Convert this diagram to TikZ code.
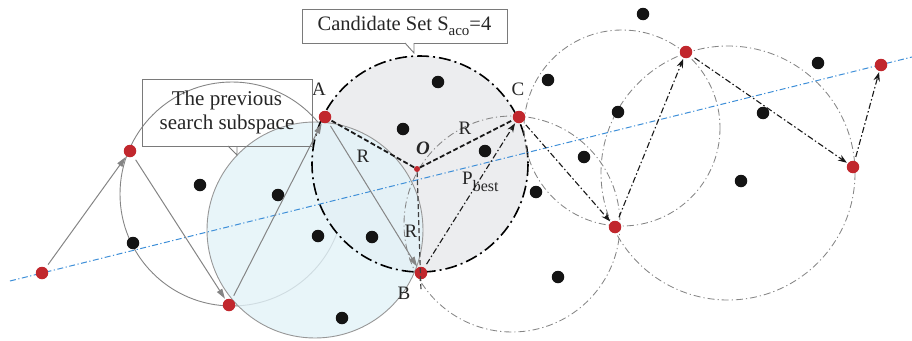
\documentclass[tikz,border=0pt]{standalone}
\usepackage{fontspec}
\setmainfont{Liberation Serif}
\usetikzlibrary{arrows.meta}
\definecolor{ptred}{HTML}{C1272D}
\definecolor{candfill}{HTML}{ECEDEF}
\definecolor{prevfill}{HTML}{E2F2F8}
\definecolor{axisblue}{HTML}{3E8FD8}
\definecolor{linegray}{HTML}{858585}
\definecolor{boxgray}{HTML}{7A7A7A}
\begin{document}
\begin{tikzpicture}[x=1pt,y=-1pt,
  redpt/.style={circle, fill=ptred, inner sep=0pt, minimum size=12.5pt},
  blkpt/.style={circle, fill=black!92, inner sep=0pt, minimum size=12.5pt},
  grayarrow/.style={draw=linegray, line width=1pt, -{Triangle[length=10pt,width=6pt]}, shorten <=4pt, shorten >=1pt},
  dasharrow/.style={draw=black!90, line width=1.1pt, dash pattern=on 6pt off 2.5pt on 1.5pt off 2.5pt, -{Stealth[length=9pt,width=6.5pt]}, shorten <=4pt, shorten >=1pt},
  thincirc/.style={draw=linegray, line width=0.85pt, dash pattern=on 7pt off 3pt on 1.2pt off 3pt},
  candcirc/.style={draw=black, line width=1.6pt, dash pattern=on 12pt off 4pt on 2pt off 4pt},
  radline/.style={draw=black!90, line width=1.8pt, dash pattern=on 5pt off 2.5pt},
  lbl/.style={inner sep=0pt, font=\fontsize{19}{19}\selectfont, text=black!85},
  calloutbox/.style={draw=boxgray, line width=0.9pt, align=center, inner sep=0pt, text=black!85}
]
\useasboundingbox (0,0) rectangle (912,340);

% circle centres
\coordinate (prevc) at (232,194);
\coordinate (blue) at (315,230);
\coordinate (cand) at (420,164);
\coordinate (c1) at (622,128);
\coordinate (c2) at (728,173);
\coordinate (c3) at (512,224);

% earlier search subspace
\draw[draw=linegray, line width=0.9pt] (prevc) circle[radius=112];
% candidate set region and current subspace
\fill[candfill] (cand) circle[radius=108];
\fill[prevfill, opacity=0.8] (blue) circle[radius=108];
\draw[draw=linegray!85, line width=0.9pt] (blue) circle[radius=108];
\draw[candcirc] (cand) circle[radius=108];

% later neighbourhoods
\draw[thincirc] (c1) circle[radius=98];
\draw[thincirc] (c2) circle[radius=127];
\draw[thincirc] (c3) circle[radius=108];

% main search direction
\coordinate (axisL) at (10,281);
\coordinate (axisR) at (912,57);
\draw[draw=axisblue, line width=1pt, dash pattern=on 6pt off 2.5pt on 1.2pt off 2.5pt] (axisL) -- (axisR);

% sampled points
\foreach \n/\p in {d1/{(438,82)}, d2/{(403,129)}, d3/{(200,185)}, d4/{(278,195)},
  d5/{(133,243)}, d6/{(318,236)}, d7/{(372,237)}, d8/{(342,318)}, d9/{(643,14)},
  d10/{(548,80)}, d11/{(618,112)}, d12/{(485,151)}, d13/{(584,157)}, d14/{(536,192)},
  d15/{(763,113)}, d16/{(818,63)}, d17/{(741,181)}, d18/{(558,277)}}
  \node[blkpt] (\n) at \p {};

% path points
\node[redpt] (p0) at (42,273) {};
\node[redpt] (p1) at (130,151) {};
\node[redpt] (p2) at (229,305) {};
\node[redpt] (A) at (325,117) {};
\node[redpt] (B) at (421,273) {};
\node[redpt] (C) at (519,117) {};
\node[redpt] (D) at (615,227) {};
\node[redpt] (E) at (686,52) {};
\node[redpt] (F) at (853,167) {};
\node[redpt] (G) at (881,65) {};
\node[circle, fill=ptred, inner sep=0pt, minimum size=6pt] (O) at (417,169) {};
\coordinate (Bend) at (421,291);

% radii of the candidate region
\draw[radline] (O) -- (A);
\draw[radline] (O) -- (C);
\draw[draw=black!75, line width=1.2pt, dash pattern=on 5pt off 3pt] (O) -- (Bend);

% previous moves
\draw[grayarrow] (p0) -- (p1);
\draw[grayarrow] (p1) -- (p2);
\draw[grayarrow] (p2) -- (A);
\draw[grayarrow] (A) -- (B);

% moves from the best candidate on
\draw[dasharrow] (B) -- (C);
\draw[dasharrow] (C) -- (D);
\draw[dasharrow] (D) -- (E);
\draw[dasharrow] (E) -- (F);
\draw[dasharrow] (F) -- (G);

% labels
\node[lbl] (lA) at (319,89) {A};
\node[lbl] (lB) at (404,293) {B};
\node[lbl] (lC) at (518,89) {C};
\node[lbl] (lR1) at (363,156) {R};
\node[lbl] (lR2) at (465,128) {R};
\node[lbl] (lR3) at (411,231) {R};
\node[lbl, font=\fontsize{19}{19}\selectfont\bfseries\itshape] (lO) at (423,148) {O};
\node[lbl, anchor=west] (lP) at (462,182) {P\raisebox{-7pt}{\fontsize{16}{16}\selectfont best}};

% callouts
\node[calloutbox, minimum width=170pt, minimum height=67pt, font=\fontsize{21}{23.5}\selectfont] (prevbox) at (227,112.5) {The previous\\search subspace};
\draw[draw=boxgray, line width=0.9pt] (228,146) -- (237,155) -- (237,146);

\fill[white] (405,43) -- (414,53) -- (414,43) -- cycle;
\node[calloutbox, fill=white, minimum width=205pt, minimum height=34pt, font=\fontsize{20.5}{20.5}\selectfont] (candbox) at (404.5,26) {Candidate Set S\raisebox{-4.5pt}{\fontsize{15}{15}\selectfont aco}=4};
\fill[white] (405.5,42.5) -- (413.5,42.5) -- (413.5,44) -- (405.5,44) -- cycle;
\draw[draw=boxgray, line width=0.9pt] (405,43) -- (414,53) -- (414,43);
\end{tikzpicture}
\end{document}
